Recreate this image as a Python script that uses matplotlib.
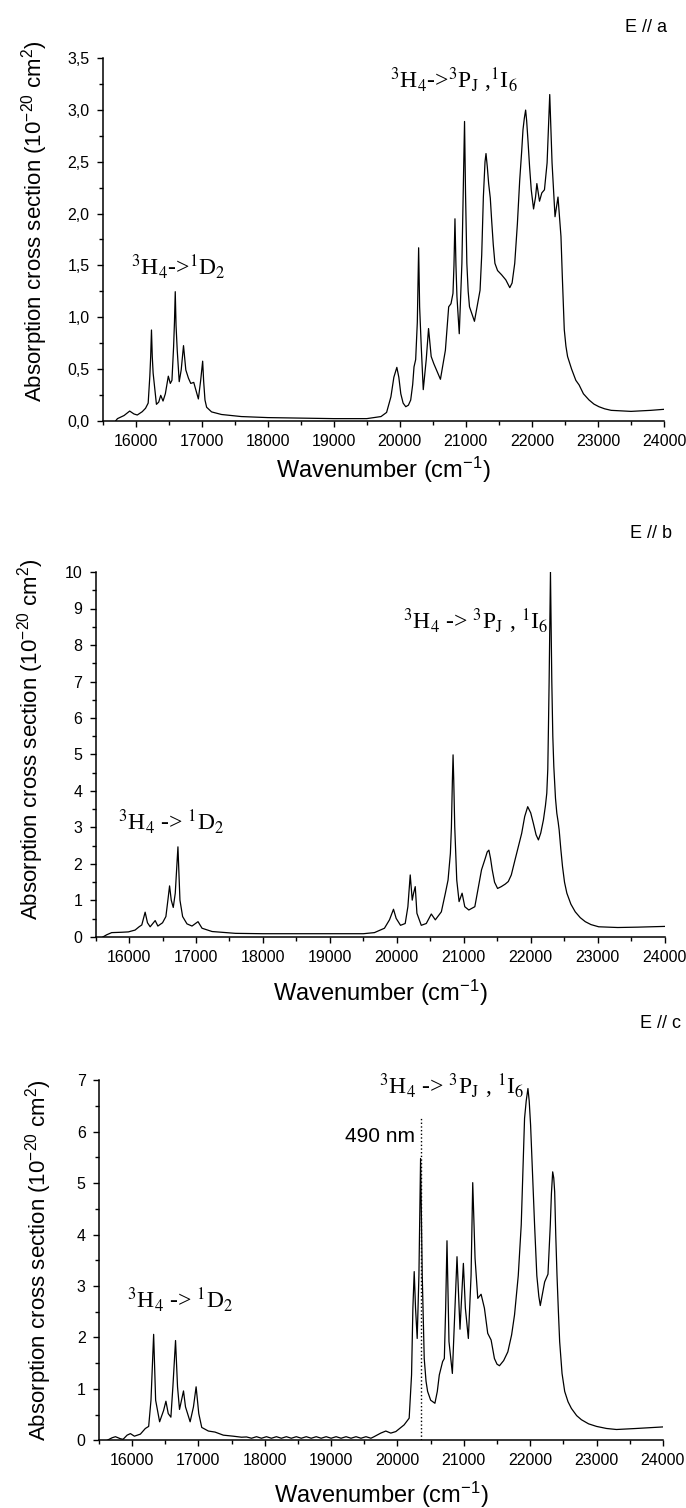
import matplotlib
matplotlib.use("Agg")
import matplotlib.pyplot as plt
from matplotlib.ticker import MultipleLocator

plt.rcParams['font.family'] = 'Liberation Sans'
plt.rcParams['mathtext.fontset'] = 'custom'
plt.rcParams['mathtext.rm'] = 'Liberation Sans'
plt.rcParams['mathtext.it'] = 'Liberation Sans:italic'

# ---- E // a ----
a_x = [15700, 15725, 15825, 15910, 15975, 16025, 16100, 16150, 16190, 16215, 16228, 16240,
       16252, 16265, 16315, 16350, 16380, 16415, 16450, 16495, 16525, 16550, 16575, 16588,
       16600, 16612, 16630, 16660, 16690, 16725, 16760, 16800, 16835, 16880, 16950, 16985,
       17015, 17030, 17050, 17075, 17150, 17300, 17600, 18000, 18500, 19000, 19500, 19715,
       19800, 19865, 19910, 19955, 19985, 20015, 20050, 20090, 20130, 20165, 20195, 20215,
       20240, 20265, 20285, 20300, 20325, 20355, 20400, 20435, 20475, 20515, 20615, 20690,
       20740, 20775, 20805, 20820, 20835, 20850, 20865, 20900, 20940, 20960, 20980, 20995,
       21015, 21035, 21055, 21130, 21215, 21240, 21265, 21290, 21305, 21325, 21345, 21370,
       21390, 21415, 21440, 21480, 21540, 21605, 21665, 21700, 21740, 21780, 21815, 21845,
       21865, 21885, 21905, 21920, 21940, 21965, 21990, 22025, 22055, 22075, 22115, 22150,
       22190, 22230, 22270, 22305, 22350, 22395, 22440, 22460, 22490, 22515, 22540, 22600,
       22665, 22715, 22780, 22865, 22940, 23015, 23100, 23200, 23500, 23800, 24000]
a_y = [0.0, 0.02, 0.05, 0.093, 0.065, 0.055, 0.087, 0.12, 0.17, 0.43, 0.62, 0.876,
       0.62, 0.46, 0.158, 0.18, 0.245, 0.19, 0.26, 0.43, 0.36, 0.39, 0.715, 0.95,
       1.246, 0.92, 0.68, 0.377, 0.49, 0.725, 0.49, 0.41, 0.36, 0.37, 0.21, 0.39,
       0.575, 0.38, 0.20, 0.13, 0.085, 0.06, 0.04, 0.03, 0.025, 0.02, 0.02, 0.04,
       0.08, 0.23, 0.42, 0.515, 0.42, 0.26, 0.17, 0.135, 0.15, 0.20, 0.35, 0.52,
       0.59, 0.95, 1.67, 1.10, 0.71, 0.30, 0.59, 0.89, 0.62, 0.55, 0.40, 0.68,
       1.10, 1.13, 1.23, 1.50, 1.95, 1.50, 1.20, 0.84, 1.52, 2.20, 2.89, 2.20,
       1.52, 1.25, 1.10, 0.96, 1.26, 1.60, 2.16, 2.50, 2.58, 2.45, 2.29, 2.15,
       1.94, 1.70, 1.52, 1.45, 1.41, 1.36, 1.285, 1.33, 1.52, 1.90, 2.32, 2.60,
       2.81, 2.92, 3.00, 2.90, 2.71, 2.45, 2.23, 2.045, 2.16, 2.29, 2.12, 2.20,
       2.23, 2.49, 3.15, 2.49, 1.97, 2.16, 1.78, 1.40, 0.88, 0.72, 0.62, 0.50,
       0.39, 0.345, 0.26, 0.20, 0.16, 0.135, 0.115, 0.10, 0.09, 0.10, 0.11]

# ---- E // b ----
b_x = [15608, 15665, 15740, 15890, 15990, 16090, 16150, 16190, 16240, 16275, 16315, 16390,
       16430, 16500, 16550, 16580, 16605, 16630, 16660, 16690, 16730, 16760, 16800, 16865,
       16940, 17030, 17090, 17240, 17590, 18000, 18500, 19000, 19500, 19665, 19815, 19890,
       19950, 19990, 20055, 20125, 20165, 20200, 20230, 20250, 20275, 20300, 20365, 20440,
       20515, 20575, 20665, 20725, 20765, 20800, 20815, 20830, 20840, 20850, 20865, 20895,
       20930, 20975, 21015, 21075, 21165, 21265, 21320, 21350, 21375, 21400, 21425, 21460,
       21505, 21560, 21620, 21665, 21710, 21765, 21865, 21910, 21955, 22000, 22040, 22080,
       22115, 22150, 22190, 22220, 22240, 22255, 22265, 22275, 22285, 22295, 22305, 22315,
       22330, 22345, 22370, 22390, 22410, 22425, 22450, 22475, 22505, 22540, 22600, 22665,
       22740, 22815, 22900, 23015, 23300, 23600, 24000]
b_y = [0.0, 0.06, 0.12, 0.13, 0.14, 0.19, 0.28, 0.33, 0.68, 0.39, 0.28, 0.45,
       0.30, 0.39, 0.56, 1.01, 1.40, 1.01, 0.81, 1.20, 2.47, 1.01, 0.56, 0.36,
       0.30, 0.42, 0.24, 0.15, 0.10, 0.09, 0.09, 0.09, 0.09, 0.12, 0.24, 0.47,
       0.76, 0.51, 0.32, 0.37, 0.83, 1.70, 1.01, 1.20, 1.38, 0.65, 0.32, 0.37,
       0.63, 0.47, 0.69, 1.20, 1.56, 2.29, 3.00, 4.30, 4.99, 4.30, 3.02, 1.56,
       0.97, 1.20, 0.83, 0.74, 0.83, 1.84, 2.15, 2.33, 2.38, 2.15, 1.84, 1.50,
       1.33, 1.38, 1.45, 1.52, 1.70, 2.11, 2.84, 3.30, 3.57, 3.40, 3.11, 2.80,
       2.66, 2.85, 3.21, 3.60, 3.94, 4.60, 5.76, 7.00, 8.50, 10.0, 8.50, 7.00,
       5.50, 4.67, 3.80, 3.39, 3.15, 2.93, 2.40, 1.93, 1.50, 1.20, 0.90, 0.69,
       0.53, 0.42, 0.34, 0.28, 0.26, 0.27, 0.29]

# ---- E // c ----
c_x = [15625, 15700, 15750, 15825, 15865, 15925, 15975, 16035, 16125, 16200, 16250, 16285,
       16325, 16355, 16415, 16475, 16510, 16545, 16585, 16615, 16655, 16685, 16715, 16775,
       16805, 16875, 16925, 16965, 17005, 17050, 17150, 17250, 17375, 17525, 17650, 17725,
       17800, 17875, 17950, 18025, 18100, 18175, 18250, 18325, 18400, 18475, 18550, 18625,
       18700, 18775, 18850, 18925, 19000, 19075, 19150, 19225, 19300, 19375, 19450, 19525,
       19600, 19647, 19748, 19824, 19899, 19975, 20100, 20176, 20212, 20232, 20252, 20272,
       20297, 20323, 20348, 20373, 20403, 20430, 20454, 20500, 20564, 20600, 20630, 20680,
       20706, 20726, 20746, 20776, 20827, 20867, 20897, 20942, 20993, 21023, 21068, 21109,
       21134, 21169, 21210, 21260, 21310, 21360, 21411, 21461, 21500, 21537, 21600, 21663,
       21720, 21764, 21820, 21865, 21890, 21915, 21940, 21966, 21985, 22006, 22035, 22066,
       22100, 22130, 22152, 22185, 22218, 22268, 22303, 22320, 22339, 22355, 22369, 22385,
       22404, 22425, 22444, 22480, 22520, 22570, 22621, 22700, 22772, 22880, 23000, 23150,
       23300, 23600, 24000]
c_y = [0.0, 0.05, 0.07, 0.03, 0.02, 0.10, 0.13, 0.08, 0.12, 0.23, 0.27, 0.78,
       2.06, 0.78, 0.36, 0.58, 0.76, 0.52, 0.45, 1.04, 1.94, 1.04, 0.60, 0.96,
       0.65, 0.36, 0.65, 1.04, 0.52, 0.25, 0.18, 0.16, 0.10, 0.08, 0.06, 0.065,
       0.04, 0.07, 0.04, 0.07, 0.04, 0.07, 0.04, 0.07, 0.04, 0.07, 0.04, 0.07,
       0.04, 0.07, 0.04, 0.07, 0.04, 0.07, 0.04, 0.07, 0.04, 0.07, 0.04, 0.07,
       0.04, 0.07, 0.14, 0.18, 0.14, 0.17, 0.30, 0.43, 1.27, 2.57, 3.28, 2.57,
       1.98, 3.21, 5.48, 3.21, 1.59, 1.15, 0.95, 0.78, 0.72, 0.95, 1.27, 1.53,
       1.59, 2.57, 3.88, 1.92, 1.30, 2.57, 3.57, 2.16, 3.44, 2.57, 1.98, 3.21,
       5.01, 3.54, 2.76, 2.84, 2.57, 2.08, 1.95, 1.59, 1.48, 1.45, 1.55, 1.72,
       2.05, 2.44, 3.20, 4.19, 5.20, 6.26, 6.60, 6.84, 6.60, 6.13, 5.20, 4.19,
       3.20, 2.80, 2.62, 2.85, 3.08, 3.23, 4.19, 4.80, 5.22, 5.10, 4.83, 4.00,
       3.21, 2.50, 1.92, 1.30, 0.95, 0.75, 0.62, 0.48, 0.40, 0.32, 0.27, 0.23,
       0.21, 0.23, 0.26]

x_ticks = [16000, 17000, 18000, 19000, 20000, 21000, 22000, 23000, 24000]
a_yticks = [0, 0.5, 1.0, 1.5, 2.0, 2.5, 3.0, 3.5]
a_ylabels = ['0,0', '0,5', '1,0', '1,5', '2,0', '2,5', '3,0', '3,5']
b_yticks = list(range(0, 11))
c_yticks = list(range(0, 8))

line_490_x = 20355
line_490_top = 6.26

W, H = 686, 1508
fig = plt.figure(figsize=(W / 100, H / 100), dpi=100)

ylab = r'Absorption cross section (10$^{-20}$ cm$^{2}$)'
xlab = r'Wavenumber (cm$^{-1}$)'
pj = r'$^3$H$_4$ -> $^3$P$_\mathrm{J}$ , $^1$I$_6$'
d2 = r'$^3$H$_4$ -> $^1$D$_2$'


def panel(box, xs, ys, ymax, yticks, ylabels, ylab_pos, xlab_y):
    ax = fig.add_axes(box)
    ax.plot(xs, ys, color='black', lw=0.9)
    ax.set_xlim(15500, 24000)
    ax.set_ylim(0, ymax)
    ax.spines['top'].set_visible(False)
    ax.spines['right'].set_visible(False)
    ax.spines['left'].set_linewidth(1.1)
    ax.spines['bottom'].set_linewidth(1.1)
    ax.set_xticks(x_ticks)
    ax.xaxis.set_minor_locator(MultipleLocator(500))
    ax.set_yticks(yticks)
    if ylabels is not None:
        ax.set_yticklabels(ylabels)
    step = yticks[1] - yticks[0]
    ax.yaxis.set_minor_locator(MultipleLocator(step / 2))
    ax.tick_params(which='major', direction='out', length=4.5, width=1, labelsize=11.5, pad=5)
    ax.tick_params(which='minor', direction='out', length=3, width=1)
    ax.set_ylabel(ylab, fontsize=16)
    ax.yaxis.set_label_coords(ylab_pos[0], ylab_pos[1])
    ax.set_xlabel(xlab, fontsize=17)
    ax.xaxis.set_label_coords(0.5, xlab_y)
    return ax


ax1 = panel([102.6 / W, 1 - 420.7 / H, 561.4 / W, 362.4 / H], a_x, a_y, 3.5,
            a_yticks, a_ylabels, (-0.094, 0.55), -0.095)
ax1.text(15930, 1.49, d2.replace(' -> ', '->'), family='Liberation Serif',
         math_fontfamily='stix', fontsize=17, va='center')
ax1.text(19851, 3.29, pj.replace(' -> ', '->').replace(' , ', ' ,'), family='Liberation Serif',
         math_fontfamily='stix', fontsize=17, va='center')
fig.text(667 / W, 1 - 28 / H, 'E // a', ha='right', va='center', fontsize=13)

ax2 = panel([95.6 / W, 1 - 937 / H, 569 / W, 365 / H], b_x, b_y, 10,
            b_yticks, None, (-0.087, 0.542), -0.112)
ax2.text(15835, 3.16, d2, family='Liberation Serif', math_fontfamily='stix',
         fontsize=17, va='center')
ax2.text(20095, 8.64, pj, family='Liberation Serif', math_fontfamily='stix',
         fontsize=17, va='center')
fig.text(672 / W, 1 - 533 / H, 'E // b', ha='right', va='center', fontsize=13)

ax3 = panel([98.9 / W, 1 - 1440.3 / H, 564 / W, 360 / H], c_x, c_y, 7,
            c_yticks, None, (-0.08, 0.5), -0.11)
ax3.plot([line_490_x, line_490_x], [0, line_490_top], color='black', lw=1, ls=':')
ax3.text(20268, 5.9, '490 nm', ha='right', va='center', fontsize=15)
ax3.text(15924, 2.73, d2, family='Liberation Serif', math_fontfamily='stix',
         fontsize=17, va='center')
ax3.text(19720, 6.88, pj, family='Liberation Serif', math_fontfamily='stix',
         fontsize=17, va='center', clip_on=False)
fig.text(681 / W, 1 - 1023 / H, 'E // c', ha='right', va='center', fontsize=13)

fig.savefig('out.png', dpi=100)
